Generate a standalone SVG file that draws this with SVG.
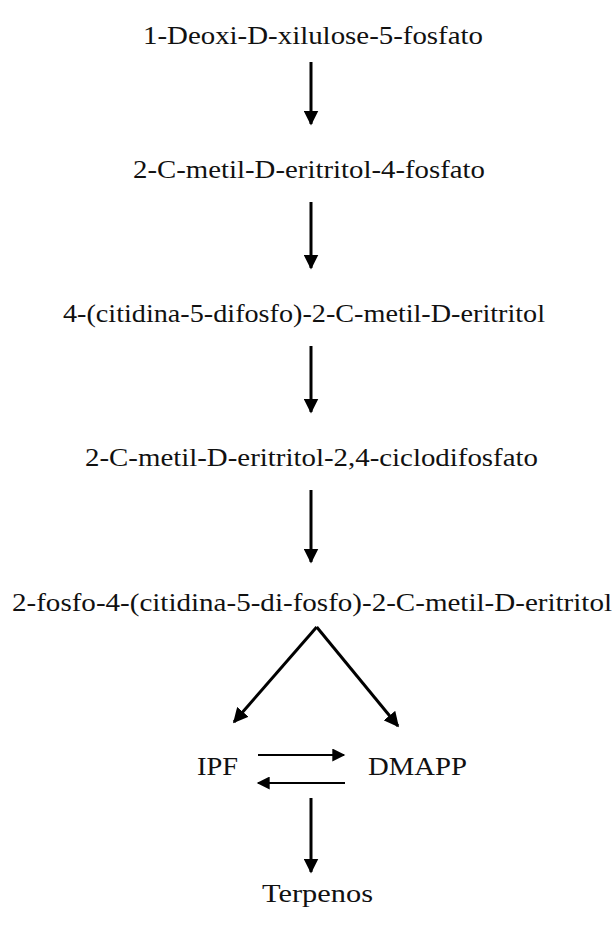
<svg xmlns="http://www.w3.org/2000/svg" width="615" height="933" viewBox="0 0 615 933">
<style>
text{font-family:"Liberation Serif","Times New Roman",serif;font-size:25px;fill:#111}
.a{stroke:#000;stroke-width:3;fill:none}
.t{stroke:#000;stroke-width:2;fill:none}
</style>
<defs>
<marker id="h" viewBox="0 0 10 10" refX="9" refY="5" markerWidth="5" markerHeight="5" orient="auto" markerUnits="strokeWidth"><path d="M0,0L10,5L0,10z" fill="#000"/></marker>
<marker id="hs" viewBox="0 0 10 10" refX="9" refY="5" markerWidth="7" markerHeight="6.5" orient="auto" markerUnits="strokeWidth"><path d="M0,0L10,5L0,10z" fill="#000"/></marker>
</defs>
<rect width="615" height="933" fill="#fff"/>
<g id="n1"><text x="143" y="44" textLength="340" lengthAdjust="spacingAndGlyphs">1-Deoxi-D-xilulose-5-fosfato</text></g>
<g id="n2"><text x="133" y="178" textLength="352" lengthAdjust="spacingAndGlyphs">2-C-metil-D-eritritol-4-fosfato</text></g>
<g id="n3"><text x="63" y="322" textLength="482" lengthAdjust="spacingAndGlyphs">4-(citidina-5-difosfo)-2-C-metil-D-eritritol</text></g>
<g id="n4"><text x="85" y="466" textLength="453" lengthAdjust="spacingAndGlyphs">2-C-metil-D-eritritol-2,4-ciclodifosfato</text></g>
<g id="n5"><text x="12" y="611" textLength="600" lengthAdjust="spacingAndGlyphs">2-fosfo-4-(citidina-5-di-fosfo)-2-C-metil-D-eritritol</text></g>
<g id="n6"><text x="197" y="775" textLength="41" lengthAdjust="spacingAndGlyphs">IPF</text></g>
<g id="n7"><text x="368" y="775" textLength="99" lengthAdjust="spacingAndGlyphs">DMAPP</text></g>
<g id="n8"><text x="262" y="902" textLength="111" lengthAdjust="spacingAndGlyphs">Terpenos</text></g>
<g id="edges">
<line class="a" x1="311" y1="62" x2="311" y2="124" marker-end="url(#h)"/>
<line class="a" x1="311" y1="202" x2="311" y2="268" marker-end="url(#h)"/>
<line class="a" x1="311" y1="346" x2="311" y2="412" marker-end="url(#h)"/>
<line class="a" x1="311" y1="490" x2="311" y2="562" marker-end="url(#h)"/>
<line class="a" x1="316.7" y1="627" x2="234" y2="722" marker-end="url(#h)"/>
<line class="a" x1="316.7" y1="627" x2="398" y2="726" marker-end="url(#h)"/>
<line class="t" x1="258" y1="755" x2="344" y2="755" marker-end="url(#hs)"/>
<line class="t" x1="345" y1="783" x2="258" y2="783" marker-end="url(#hs)"/>
<line class="a" x1="311" y1="798" x2="311" y2="872" marker-end="url(#h)"/>
</g>
</svg>
